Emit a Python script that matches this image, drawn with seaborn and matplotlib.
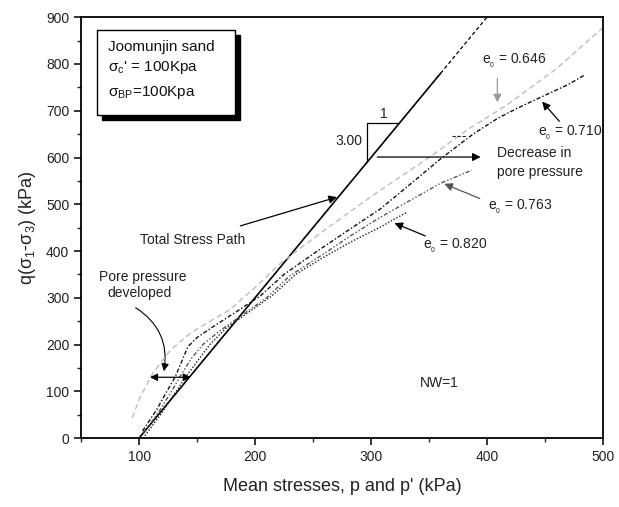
import numpy as np
import pandas as pd
import matplotlib
matplotlib.use("Agg")
import matplotlib.pyplot as plt
from matplotlib.patches import Rectangle, FancyArrowPatch
import seaborn as sns

# ---------------- data ----------------
tsp_p = [100, 360]
tsp_q = [0, 780]
tsp_ext_p = [360, 400]
tsp_ext_q = [780, 900]

p_646 = [94, 101, 112, 127, 144, 160, 178, 200, 222, 260, 305, 350, 383, 417, 460, 500]
q_646 = [43, 88, 139, 188, 224, 248, 274, 322, 374, 445, 525, 600, 659, 712, 790, 878]

p_710 = [103, 115, 124, 131, 137, 142, 150, 165, 185, 205, 225, 255, 285, 308, 331, 360, 388, 410, 430, 450, 470, 484]
q_710 = [15, 60, 100, 130, 165, 195, 215, 240, 272, 305, 350, 402, 452, 490, 537, 597, 650, 685, 710, 733, 756, 776]

p_763 = [104, 118, 128, 135, 145, 155, 170, 190, 210, 230, 258, 282, 308, 335, 360, 387]
q_763 = [10, 60, 100, 130, 170, 200, 230, 265, 300, 347, 392, 432, 472, 510, 545, 573]

p_820 = [105, 120, 132, 140, 152, 161, 175, 195, 215, 235, 258, 283, 308, 320, 331]
q_820 = [5, 55, 100, 130, 170, 200, 235, 270, 305, 350, 385, 420, 451, 468, 483]

mark_p = [370, 383]
mark_q = [646, 646]

x_ticks = [100, 200, 300, 400, 500]
y_ticks = [0, 100, 200, 300, 400, 500, 600, 700, 800, 900]

# ---------------- style ----------------
sns.set_theme(style="white")
plt.rcParams["font.family"] = ["Liberation Sans", "DejaVu Sans"]
plt.rcParams["mathtext.fontset"] = "custom"
plt.rcParams["mathtext.rm"] = "Liberation Sans"
plt.rcParams["mathtext.it"] = "Liberation Sans:italic"
plt.rcParams["mathtext.bf"] = "Liberation Sans:bold"

fig = plt.figure(figsize=(6.19, 5.07), dpi=100)
ax = fig.add_axes([0.131, 0.136, 0.843, 0.830])

def draw(p, q, color, ls, lw=1.0):
    df = pd.DataFrame({"p": p, "q": q})
    sns.lineplot(data=df, x="p", y="q", sort=False, color=color, linestyle=ls,
                 linewidth=lw, ax=ax, legend=False)

draw(tsp_p, tsp_q, "black", "-", 1.2)
draw(tsp_ext_p, tsp_ext_q, "black", (0, (3, 2)), 0.9)
draw(p_646, q_646, "#bdbdbd", (0, (4, 2.5)), 1.0)
draw(p_710, q_710, "#111111", (0, (3, 1.5, 1, 1.5)), 1.0)
draw(p_763, q_763, "#555555", (0, (3, 1.5, 1, 1.5, 1, 1.5)), 1.0)
draw(p_820, q_820, "#222222", (0, (1, 1.3)), 1.0)
draw(mark_p, mark_q, "#222222", (0, (3, 1.5)), 0.8)

ax.set_xlim(50, 500)
ax.set_ylim(0, 900)
ax.set_xticks(x_ticks)
ax.set_yticks(y_ticks)
ax.set_xticks(np.arange(50, 501, 50), minor=True)
ax.set_yticks(np.arange(0, 901, 50), minor=True)
ax.tick_params(axis="both", which="major", direction="out", length=5, width=1.1,
               labelsize=10, colors="black", labelcolor="#222222",
               bottom=True, left=True, top=False, right=False)
ax.tick_params(axis="both", which="minor", direction="out", length=3, width=1.0,
               bottom=True, left=True, top=False, right=False)
for s in ax.spines.values():
    s.set_color("black")
    s.set_linewidth(1.3)

ax.set_xlabel("Mean stresses, p and p' (kPa)", fontsize=13, color="#222222", labelpad=10)
ax.set_ylabel(r"q($\mathregular{σ_1}$-$\mathregular{σ_3}$) (kPa)", fontsize=13, color="#222222", labelpad=6)

# ---------------- info box with shadow ----------------
ax.add_patch(Rectangle((68.1, 680.0), 119.0, 181.6, facecolor="black", edgecolor="black", zorder=5))
ax.add_patch(Rectangle((63.8, 690.6), 119.0, 181.4, facecolor="white", edgecolor="black",
                       linewidth=1.0, zorder=6))
ax.text(73.5, 837, "Joomunjin sand", fontsize=11, va="center", ha="left", zorder=7, color="#111111")
ax.text(73.5, 793, r"$\mathregular{σ_c}$' = 100Kpa", fontsize=11, va="center", ha="left", zorder=7, color="#111111")
ax.text(73.5, 740, r"$\mathregular{σ_{BP}}$=100Kpa", fontsize=11, va="center", ha="left", zorder=7, color="#111111")

# ---------------- slope triangle ----------------
ax.plot([296.6, 296.6, 324.3], [590, 673, 673], color="black", linewidth=0.9)
ax.text(311, 678, "1", fontsize=10, ha="center", va="bottom", color="#222222")
ax.text(293, 635, "3.00", fontsize=10, ha="right", va="center", color="#222222")

# ---------------- annotations ----------------
arrow_kw = dict(arrowstyle="-|>", mutation_scale=12, linewidth=0.9)

ax.annotate("", xy=(397, 601), xytext=(303, 601),
            arrowprops=dict(color="black", **arrow_kw))
ax.text(409, 610, "Decrease in", fontsize=10, ha="left", va="center", color="#222222")
ax.text(409, 568, "pore pressure", fontsize=10, ha="left", va="center", color="#222222")

ax.text(396, 806, r"e$_{_0}$ = 0.646", fontsize=10, ha="left", va="center", color="#222222")
ax.annotate("", xy=(409, 712), xytext=(409, 775),
            arrowprops=dict(color="#999999", **arrow_kw))

ax.text(444, 652, r"e$_{_0}$ = 0.710", fontsize=10, ha="left", va="center", color="#222222")
ax.annotate("", xy=(446, 724), xytext=(464, 673),
            arrowprops=dict(color="black", **arrow_kw))

ax.text(401, 494, r"e$_{_0}$ = 0.763", fontsize=10, ha="left", va="center", color="#222222")
ax.annotate("", xy=(361, 546), xytext=(396, 510),
            arrowprops=dict(color="#555555", **arrow_kw))

ax.text(345, 410, r"e$_{_0}$ = 0.820", fontsize=10, ha="left", va="center", color="#222222")
ax.annotate("", xy=(318, 462), xytext=(349, 430),
            arrowprops=dict(color="black", **arrow_kw))

ax.text(101, 423, "Total Stress Path", fontsize=10, ha="left", va="center", color="#222222")
ax.annotate("", xy=(273, 517), xytext=(185, 452),
            arrowprops=dict(color="black", **arrow_kw))

ax.text(103, 344, "Pore pressure", fontsize=10, ha="center", va="center", color="#222222")
ax.text(100, 310, "developed", fontsize=10, ha="center", va="center", color="#222222")
ax.add_patch(FancyArrowPatch((95, 282), (121, 137), connectionstyle="arc3,rad=-0.35",
                             arrowstyle="-|>", mutation_scale=11, color="black", linewidth=0.8))
ax.annotate("", xy=(107, 130), xytext=(147, 130),
            arrowprops=dict(arrowstyle="<|-|>", mutation_scale=11, color="black", linewidth=0.9))

ax.text(342, 118, "NW=1", fontsize=10, ha="left", va="center", color="#222222")

fig.savefig("out.png", dpi=100)
